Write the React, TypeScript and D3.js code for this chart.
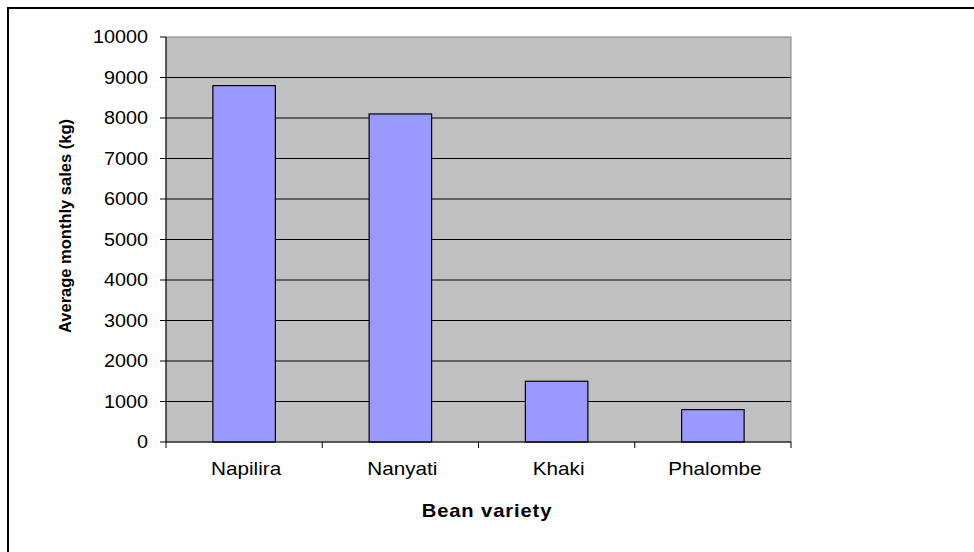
import React from "react";
import * as d3 from "d3";

const categories = ["Napilira", "Nanyati", "Khaki", "Phalombe"];
const values = [8800, 8100, 1500, 800];
const yTicks = [0, 1000, 2000, 3000, 4000, 5000, 6000, 7000, 8000, 9000, 10000];

export default function App() {
  const W = 974, H = 552;
  const left = 166, right = 791, top = 37, bottom = 442;
  const x = d3.scaleBand<string>().domain(categories).range([left, right]).paddingInner(0.6).paddingOuter(0.3);
  const xb = d3.scaleBand<string>().domain(categories).range([left, right]);
  const y = d3.scaleLinear().domain([0, 10000]).range([bottom, top]);
  const font = "Arial, 'Liberation Sans', sans-serif";
  return (
    <svg width={W} height={H} style={{ position: "absolute", left: 0, top: 0 }}>
      <rect x={0} y={0} width={W} height={H} fill="#fff" />
      <rect x={8} y={8} width={W + 20} height={H + 20} fill="none" stroke="#000" strokeWidth={2} />
      <rect x={left} y={top} width={right - left} height={bottom - top} fill="#c0c0c0" stroke="#808080" strokeWidth={1} />
      {yTicks.map((t) => (
        <g key={t}>
          {t > 0 && t < 10000 && (
            <line x1={left} x2={right} y1={y(t)} y2={y(t)} stroke="#000" strokeWidth={1} />
          )}
          <line x1={left - 6} x2={left} y1={y(t)} y2={y(t)} stroke="#000" strokeWidth={1} />
          <text transform={`translate(${left - 18},${y(t)}) scale(1.13,1)`} dy="0.35em" textAnchor="end"
            fontFamily={font} fontSize={17.5} fill="#000">
            {t}
          </text>
        </g>
      ))}
      {categories.map((c, i) => (
        <rect key={c} x={x(c)} y={y(values[i])} width={x.bandwidth()} height={bottom - y(values[i])}
          fill="#9999ff" stroke="#000" strokeWidth={1.2} />
      ))}
      <line x1={left} x2={right} y1={bottom} y2={bottom} stroke="#000" strokeWidth={1} />
      <line x1={left} x2={left} y1={top} y2={bottom} stroke="#000" strokeWidth={1} />
      {[...categories.map((c) => xb(c) as number), right].map((v, i) => (
        <line key={i} x1={v} x2={v} y1={bottom} y2={bottom + 6} stroke="#000" strokeWidth={1} />
      ))}
      {categories.map((c) => (
        <text key={c} transform={`translate(${(xb(c) as number) + xb.bandwidth() / 2 + 2},${469}) scale(1.15,1)`}
          dy="0.35em" textAnchor="middle" fontFamily={font} fontSize={18} fill="#000">
          {c}
        </text>
      ))}
      <text transform={`translate(487,511) scale(1.12,1)`} dy="0.35em" textAnchor="middle" fontFamily={font}
        fontSize={18} fontWeight="bold" letterSpacing={0.8} fill="#000">
        Bean variety
      </text>
      <text transform={`translate(65,226) rotate(-90)`} dy="0.35em" textAnchor="middle"
        fontFamily={font} fontSize={16.5} fontWeight="bold" fill="#000">
        Average monthly sales (kg)
      </text>
    </svg>
  );
}
